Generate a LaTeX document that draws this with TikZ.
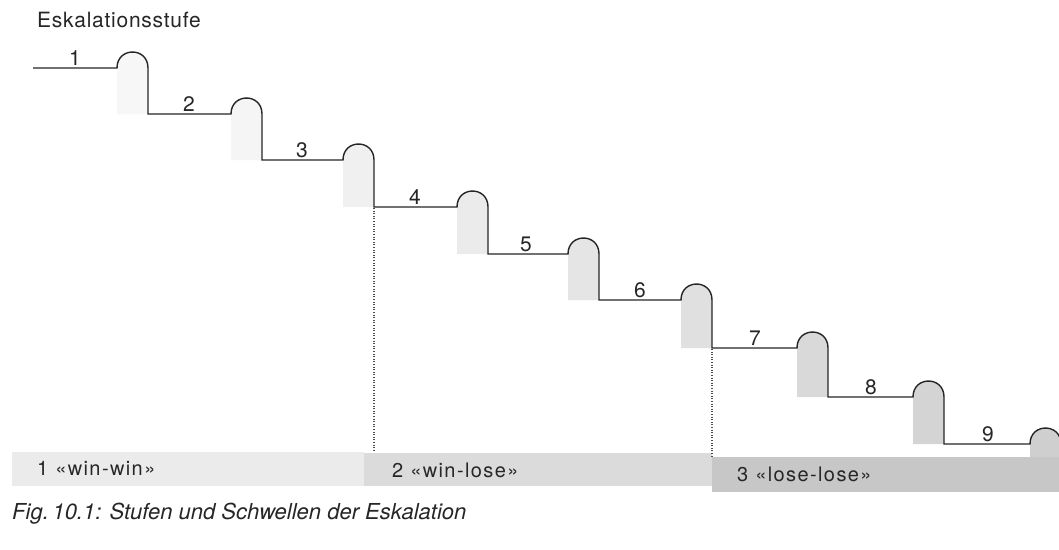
\documentclass[tikz,border=0pt]{standalone}
\usepackage{fontspec}
\setmainfont{TeX Gyre Heros}
\newfontfamily\titlefont[LetterSpace=3.5]{TeX Gyre Heros}
\newfontfamily\barfont[LetterSpace=7]{TeX Gyre Heros}
\begin{document}
\begin{tikzpicture}[x=1pt,y=-1pt,
  stepline/.style={line width=1.4pt,black!85,line join=miter},
  numlabel/.style={anchor=base,inner sep=0pt,font=\fontsize{21}{21}\selectfont,text=black!85},
  barlabel/.style={anchor=base west,inner sep=0pt,font=\barfont\fontsize{20}{20}\selectfont,text=black!85},
  divider/.style={line width=1.1pt,black!70,dash pattern=on 1pt off 1.6pt}]
\useasboundingbox (0,0) rectangle (1059,549);
\clip (0,0) rectangle (1059,549);
\fill[white] (0,0) rectangle (1059,549);
% bottom bar
\fill[black!8] (12,452) rectangle (364,486);
\fill[black!14] (364,453) rectangle (712,486);
\fill[black!22] (712,457) rectangle (1059,492);
% shaded thresholds
\foreach \b/\y/\n/\g in {117/68/114/3,231/114/160/4,343/160/207/6,457/207/254/8,568/254/300/10,681/300/348/12,797/348/397/15,913/397/444/17,1030/444/457/19}{
  \fill[black!\g] (\b,\n) -- (\b,\y) .. controls (\b,\y-21.3) and (\b+31,\y-21.3) .. (\b+31,\y) -- (\b+31,\n) -- cycle;
}
% stairs
\draw[stepline] (33,68)
  \foreach \b/\y/\n in {117/68/114,231/114/160,343/160/207,457/207/254,568/254/300,681/300/348,797/348/397,913/397/444,1030/444/470}{
    -- (\b,\y) .. controls (\b,\y-21.3) and (\b+31,\y-21.3) .. (\b+31,\y) -- (\b+31,\n)
  };
% dividers
\coordinate (d1t) at (374,208);
\coordinate (d1b) at (374,452);
\coordinate (d2t) at (712,349);
\coordinate (d2b) at (712,457);
\draw[divider] (d1t) -- (d1b);
\draw[divider] (d2t) -- (d2b);
% step numbers
\foreach \x/\y/\t in {75/68/1,189/114/2,302/160/3,415/207/4,526/254/5,640/300/6,755/348/7,871/397/8,988/444/9}{
  \node[numlabel] (n\t) at (\x,\y-2.5) {\t};
}
% titles
\node[anchor=base west,inner sep=0pt,font=\titlefont\fontsize{21}{21}\selectfont,text=black!85] (title) at (37,27) {Eskalationsstufe};
\node[barlabel] (b1) at (37,475) {1 «win-win»};
\node[barlabel] (b2) at (392,477) {2 «win-lose»};
\node[barlabel] (b3) at (737,481) {3 «lose-lose»};
\node[anchor=base west,inner sep=0pt,font=\fontsize{22}{22}\selectfont\itshape,text=black!85] (cap) at (12,519) {Fig.\,10.1: Stufen und Schwellen der Eskalation};
\end{tikzpicture}
\end{document}
